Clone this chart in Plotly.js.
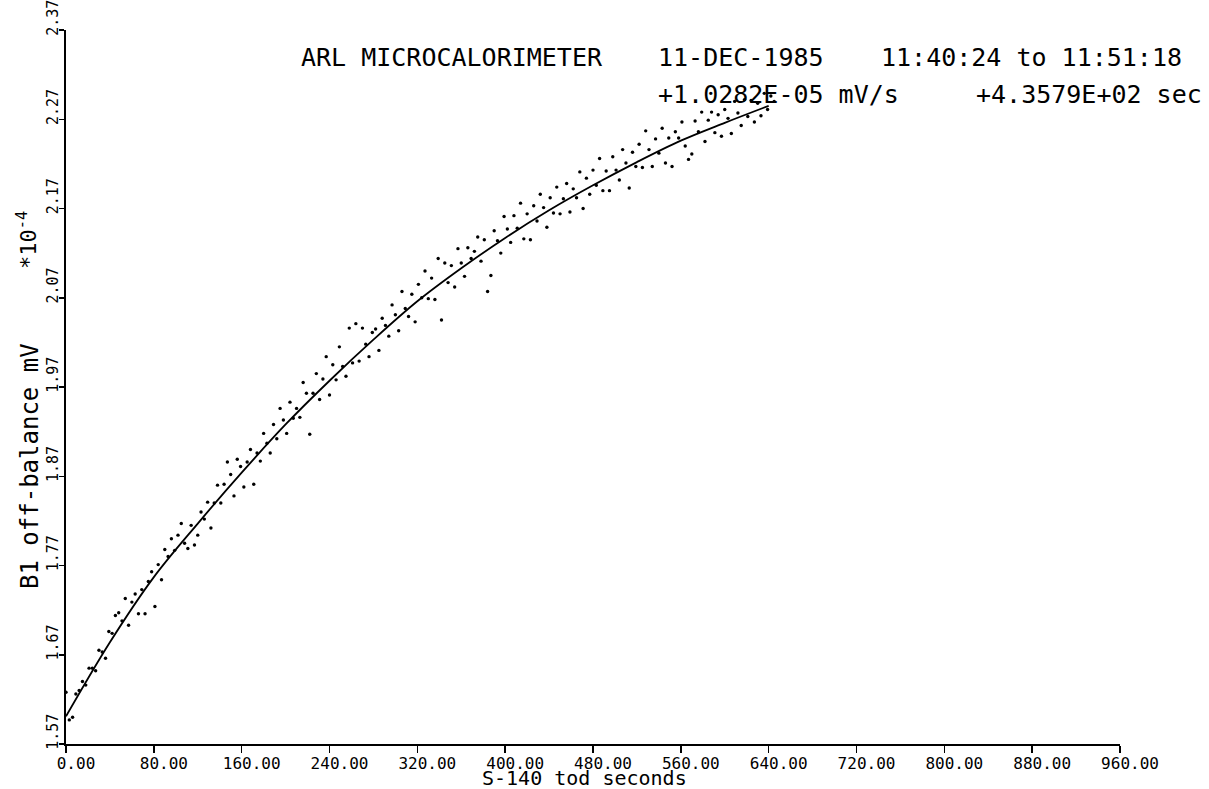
<!DOCTYPE html>
<html>
<head>
<meta charset="utf-8">
<script src="https://cdn.plot.ly/plotly-3.0.1.min.js"></script>
<style>html,body{margin:0;padding:0;background:#fff;}#chart{width:1209px;height:789px;}</style>
</head>
<body>
<div id="chart"></div>
<script>
// Sampled points: time (s) and B1 off-balance (mV, x10^-4)
const todSeconds = [0,3,6,9,12,15,18,21,24,27,30,33,36,39,42,45,48,51,54,57,60,63,66,69,72,75,78,81,84,87,90,93,96,99,102,105,108,111,114,117,120,123,126,129,132,135,138,141,144,147,150,153,156,159,162,165,168,171,174,177,180,183,186,189,192,195,198,201,204,207,210,213,216,219,222,225,228,231,234,237,240,243,246,249,252,255,258,261,264,267,270,273,276,279,282,285,288,291,294,297,300,303,306,309,312,315,318,321,324,327,330,333,336,339,342,345,348,351,354,357,360,363,366,369,372,375,378,381,384,387,390,393,396,399,402,405,408,411,414,417,420,423,426,429,432,435,438,441,444,447,450,453,456,459,462,465,468,471,474,477,480,483,486,489,492,495,498,501,504,507,510,513,516,519,522,525,528,531,534,537,540,543,546,549,552,555,558,561,564,567,570,573,576,579,582,585,588,591,594,597,600,603,606,609,612,615,618,621,624,627,630,633,636,639,642,645];
const offBalance = [
1.628,1.597,1.600,1.626,1.630,1.640,1.636,1.655,1.655,1.652,1.675,1.673,1.666,1.696,
1.694,1.714,1.717,1.708,1.733,1.703,1.729,1.738,1.716,1.743,1.716,1.752,1.763,
1.724,1.771,1.754,1.788,1.780,1.800,1.787,1.804,1.817,1.795,1.789,1.815,1.793,
1.804,1.830,1.822,1.841,1.812,1.840,1.860,1.840,1.861,1.886,1.872,1.848,1.889,1.881,
1.858,1.886,1.900,1.861,1.896,1.887,1.918,1.907,1.896,1.928,1.912,1.946,1.933,
1.918,1.953,1.935,1.946,1.936,1.975,1.963,1.917,1.963,1.985,1.956,1.979,2.004,
1.961,1.995,1.978,2.015,1.993,1.982,2.036,1.997,2.041,1.999,2.036,2.018,2.004,2.031,
2.035,2.011,2.047,2.039,2.027,2.062,2.051,2.033,2.077,2.058,2.049,2.074,2.043,
2.085,2.070,2.100,2.069,2.092,2.068,2.114,2.045,2.109,2.087,2.106,2.082,2.125,
2.109,2.094,2.126,2.114,2.122,2.138,2.111,2.135,2.077,2.095,2.145,2.134,2.120,2.161,
2.147,2.132,2.162,2.148,2.176,2.136,2.164,2.135,2.173,2.156,2.186,2.171,2.149,
2.182,2.165,2.194,2.164,2.181,2.198,2.166,2.192,2.182,2.211,2.170,2.204,2.186,
2.213,2.196,2.226,2.190,2.212,2.190,2.228,2.213,2.202,2.236,2.221,2.193,2.233,2.217,
2.242,2.216,2.257,2.236,2.217,2.248,2.232,2.260,2.221,2.249,2.217,2.256,2.249,
2.267,2.240,2.225,2.231,2.268,2.256,2.278,2.245,2.269,2.278,2.255,2.275,2.251,
2.281,2.271,2.254,2.290,2.277,2.263,2.292,2.273,2.291,2.267,2.288,2.274,2.299,2.281,
2.296,2.290];

// Fitted curve
const fitTod = [0,40,80,120,160,200,240,280,320,360,400,440,480,520,560,600,640];
const fitMv  = [1.601,1.684,1.757,1.817,1.874,1.928,1.977,2.023,2.066,2.103,2.137,2.168,2.196,2.222,2.246,2.266,2.285];

// Tick labels
const xTickVals = [0,80,160,240,320,400,480,560,640,720,800,880,960];
const xTickText = ["0.00","80.00","160.00","240.00","320.00","400.00","480.00","560.00","640.00","720.00","800.00","880.00","960.00"];
const yTickVals = [1.57,1.67,1.77,1.87,1.97,2.07,2.17,2.27,2.37];
const yTickText = ["1.57","1.67","1.77","1.87","1.97","2.07","2.17","2.27","2.37"];

const FONT = "DejaVu Sans Mono, monospace";

const L = 66, R = 89, T = 30, B = 45, W = 1209, H = 789;
const PW = W - L - R, PH = H - T - B;
const px = v => (v - L) / PW;     // pixel -> paper x
const py = v => (H - B - v) / PH; // pixel -> paper y

const traces = [
  {x: todSeconds, y: offBalance, type: 'scatter', mode: 'markers',
   marker: {color: '#000', size: 3.4}, hoverinfo: 'x+y', showlegend: false},
  {x: fitTod, y: fitMv, type: 'scatter', mode: 'lines',
   line: {color: '#000', width: 1.8, shape: 'spline'}, hoverinfo: 'skip', showlegend: false}
];

function ann(text, xp, yp, size, opts) {
  return Object.assign({text: text, xref: 'paper', yref: 'paper', x: px(xp), y: py(yp),
    xanchor: 'left', yanchor: 'middle', showarrow: false, borderpad: 0,
    font: {family: FONT, size: size, color: '#000'}}, opts || {});
}

const layout = {
  width: W, height: H,
  margin: {l: L, r: R, t: T, b: B},
  paper_bgcolor: '#fff', plot_bgcolor: '#fff',
  showlegend: false,
  font: {family: FONT, color: '#000'},
  xaxis: {
    range: [0, 960], showgrid: false, zeroline: false,
    showline: true, linecolor: '#000', linewidth: 2,
    ticks: 'outside', ticklen: 7, tickwidth: 1.5, tickcolor: '#000',
    tickvals: xTickVals, ticktext: xTickText,
    tickfont: {family: FONT, size: 16, color: '#000'},
    ticklabelshift: 10, ticklabelstandoff: -3, ticklabeloverflow: 'allow',
    automargin: false
  },
  yaxis: {
    range: [1.57, 2.37], showgrid: false, zeroline: false,
    showline: true, linecolor: '#000', linewidth: 2,
    ticks: 'outside', ticklen: 5, tickwidth: 1.5, tickcolor: '#000',
    tickvals: yTickVals, ticktext: yTickText, tickangle: -90,
    tickfont: {family: FONT, size: 15, color: '#000'},
    ticklabelshift: -10, ticklabelstandoff: -5, ticklabeloverflow: 'allow',
    automargin: false
  },
  annotations: [
    ann('ARL MICROCALORIMETER', 300, 58, 25),
    ann('11-DEC-1985', 657, 58, 25),
    ann('11:40:24 to 11:51:18', 880, 58, 25),
    ann('+1.0282E-05 mV/s', 657, 94, 25),
    ann('+4.3579E+02 sec', 975, 94, 25),
    ann('S-140 tod seconds', 584, 778, 20, {xanchor: 'center'}),
    ann('B1 off-balance mV', 30, 466, 24, {xanchor: 'center', textangle: -90}),
    ann('*10<sup>-4</sup>', 27, 240, 22, {xanchor: 'center', textangle: -90})
  ]
};

Plotly.newPlot('chart', traces, layout, {displayModeBar: false, staticPlot: true});
</script>
</body>
</html>
